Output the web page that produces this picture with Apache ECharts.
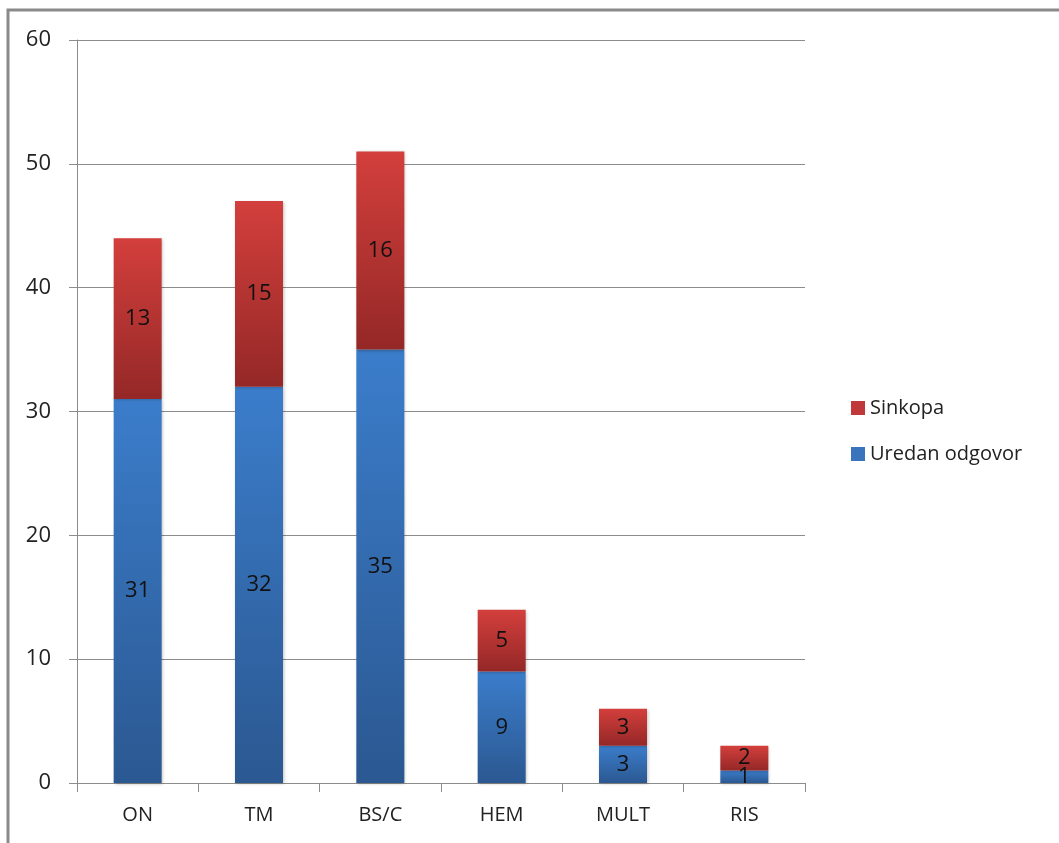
<!DOCTYPE html>
<html>
<head>
<meta charset="utf-8">
<script src="https://cdn.jsdelivr.net/npm/echarts@6/dist/echarts.min.js"></script>
<style>
  html, body { margin: 0; padding: 0; background: #fff; }
  #chart { width: 1059px; height: 843px; }
</style>
</head>
<body>
<div id="chart"></div>
<script>
var categories = ['ON', 'TM', 'BS/C', 'HEM', 'MULT', 'RIS']
var uredan = [31, 32, 35, 9, 3, 1]
var sinkopa = [13, 15, 16, 5, 3, 2]
var yTicks = { min: 0, max: 60, interval: 10 }

var font = '"Open Sans", "Noto Sans", sans-serif'

function grad(top, bottom) {
  return new echarts.graphic.LinearGradient(0, 0, 0, 1, [
    { offset: 0, color: top },
    { offset: 1, color: bottom }
  ])
}

var label = {
  show: true,
  position: 'inside',
  color: '#111',
  fontSize: 22,
  fontFamily: font
}

var chart = echarts.init(document.getElementById('chart'))
chart.setOption({
  animation: false,
  textStyle: { fontFamily: font },
  graphic: [{
    type: 'rect',
    shape: { x: 8, y: 10, width: 1200, height: 1000 },
    style: { fill: 'none', stroke: '#8a8a8a', lineWidth: 3 },
    silent: true
  }],
  grid: { left: 77, top: 40, right: 254, bottom: 60 },
  legend: {
    orient: 'vertical',
    left: 846,
    top: 393,
    itemWidth: 14,
    itemHeight: 14,
    itemGap: 26,
    icon: 'rect',
    data: [
      { name: 'Sinkopa', itemStyle: { color: '#c0393a', shadowBlur: 0 } },
      { name: 'Uredan odgovor', itemStyle: { color: '#3a74bd', shadowBlur: 0 } }
    ],
    textStyle: { fontSize: 20, color: '#222', fontFamily: font }
  },
  xAxis: {
    type: 'category',
    data: categories,
    axisLine: { lineStyle: { color: '#8c8c8c', width: 1 } },
    axisTick: { show: true, length: 9, lineStyle: { color: '#8c8c8c' } },
    axisLabel: { fontSize: 20, color: '#222', margin: 22, fontFamily: font }
  },
  yAxis: {
    type: 'value',
    min: yTicks.min,
    max: yTicks.max,
    interval: yTicks.interval,
    axisLine: { show: true, lineStyle: { color: '#8c8c8c', width: 1 } },
    axisTick: { show: true, length: 8, lineStyle: { color: '#8c8c8c' } },
    splitLine: { lineStyle: { color: '#8c8c8c', width: 1 } },
    axisLabel: { fontSize: 22, color: '#222', margin: 26, fontFamily: font }
  },
  series: [
    {
      name: 'Uredan odgovor',
      type: 'bar',
      stack: 'total',
      barWidth: 48,
      data: uredan,
      label: label,
      itemStyle: {
        color: grad('#3b7dcb', '#2b5891'),
        shadowColor: 'rgba(0,0,0,0.25)',
        shadowBlur: 3,
        shadowOffsetX: 1,
        shadowOffsetY: 1
      }
    },
    {
      name: 'Sinkopa',
      type: 'bar',
      stack: 'total',
      barWidth: 48,
      data: sinkopa,
      label: label,
      itemStyle: {
        color: grad('#d33f3c', '#942827'),
        shadowColor: 'rgba(0,0,0,0.25)',
        shadowBlur: 3,
        shadowOffsetX: 1,
        shadowOffsetY: 1
      }
    }
  ]
})
</script>
</body>
</html>
